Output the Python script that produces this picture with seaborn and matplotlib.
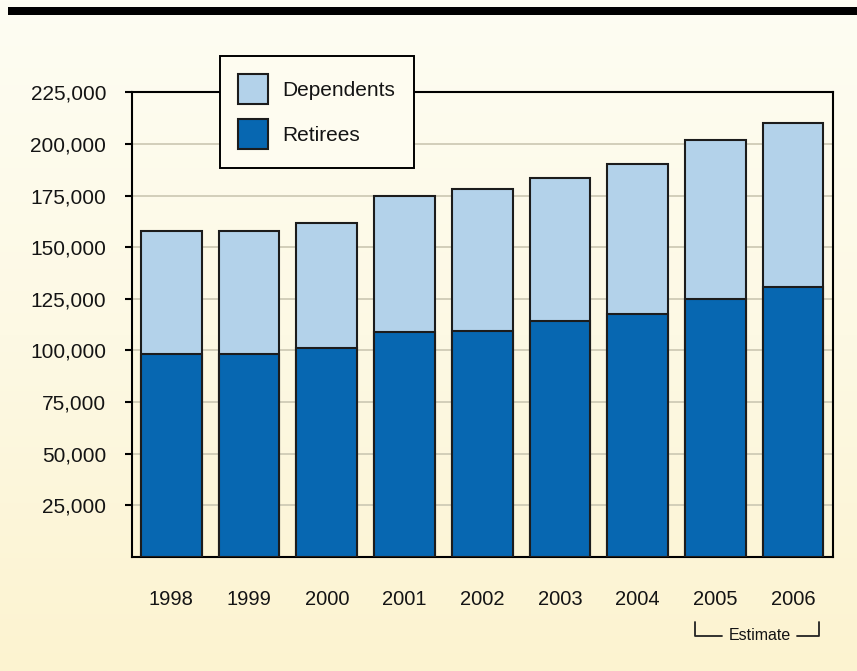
import numpy as np
import pandas as pd
import matplotlib
matplotlib.use("Agg")
import matplotlib.pyplot as plt
import matplotlib.transforms as mtrans
from matplotlib.patches import Patch, Rectangle
from matplotlib.colors import LinearSegmentedColormap
import seaborn as sns

# ---- data ----
years = ["1998", "1999", "2000", "2001", "2002", "2003", "2004", "2005", "2006"]
retirees = [98200, 98200, 101000, 108700, 109300, 114000, 117700, 125000, 130500]
dependents = [59800, 59800, 60500, 65900, 68800, 69600, 72400, 77000, 79800]
y_ticks = [25000, 50000, 75000, 100000, 125000, 150000, 175000, 200000, 225000]
series_labels = ["Dependents", "Retirees"]
estimate_label = "Estimate"

light = "#B3D2EA"
dark = "#0767B1"
edge = "#1C1C1C"
cream = "#FEFCF0"
txt = "#141414"

sns.set_theme(style="white")
plt.rcParams["font.family"] = ["Liberation Sans", "DejaVu Sans"]

fig = plt.figure(figsize=(8.57, 6.71), dpi=100)

# background gradient
bgax = fig.add_axes([0, 0, 1, 1], zorder=-10)
cmap = LinearSegmentedColormap.from_list("bg", ["#FEFDF3", "#FDF9E4", "#FCF3D0"])
bgax.imshow(np.linspace(0, 1, 256).reshape(-1, 1), aspect="auto", cmap=cmap,
            extent=[0, 1, 0, 1])
bgax.axis("off")

W, H = 857, 671
ax = fig.add_axes([131.7 / W, 1 - 556.7 / H, (832.7 - 131.7) / W, (556.7 - 92.3) / H])
ax.patch.set_alpha(0)

df = pd.DataFrame({"year": years, "Retirees": retirees, "Dependents": dependents})
df["Total"] = df["Retirees"] + df["Dependents"]

sns.barplot(data=df, x="year", y="Total", color=light, saturation=1, width=0.78,
            edgecolor=edge, linewidth=1.5, errorbar=None, ax=ax, zorder=3)
sns.barplot(data=df, x="year", y="Retirees", color=dark, saturation=1, width=0.78,
            edgecolor=edge, linewidth=1.5, errorbar=None, ax=ax, zorder=4)

ax.set_xlim(-0.51, 8.51)
ax.set_ylim(0, 225000)
ax.set_yticks(y_ticks)
ax.set_yticklabels([f"{v:,}" for v in y_ticks])
ax.yaxis.grid(True, color="#CFCBB6", lw=1.3)
ax.xaxis.grid(False)
ax.set_axisbelow(True)
ax.set_xlabel("")
ax.set_ylabel("")
ax.tick_params(axis="y", left=True, length=4.8, width=1.5, color="black",
               direction="out", pad=13.5, labelsize=15, labelcolor=txt)
ax.tick_params(axis="x", length=0, pad=24, labelsize=14.5, labelcolor=txt)
for s in ax.spines.values():
    s.set_color("black")
    s.set_linewidth(1.5)
    s.set_visible(True)

handles = [Patch(facecolor=light, edgecolor=edge, lw=1.5, label=series_labels[0]),
           Patch(facecolor=dark, edgecolor=edge, lw=1.5, label=series_labels[1])]
leg = fig.legend(handles=handles, loc="upper left",
                 bbox_to_anchor=(220 / W, 1 - 56 / H), frameon=True, fancybox=False,
                 edgecolor="black", facecolor=cream, framealpha=1, fontsize=15,
                 handlelength=1.4, handleheight=1.84, handletextpad=0.72,
                 labelspacing=0.72, borderpad=0.88, borderaxespad=0)
leg.get_frame().set_linewidth(1.4)
for t in leg.get_texts():
    t.set_color(txt)

# top black band
fig.add_artist(Rectangle((8 / W, 1 - 15 / H), 1, 8 / H, transform=fig.transFigure,
                         facecolor="black", edgecolor="none", zorder=10))

# Estimate bracket
tr = mtrans.blended_transform_factory(ax.transData, fig.transFigure)
y1, y2 = 1 - 622 / H, 1 - 636 / H
ax.plot([6.744, 6.744, 7.09], [y1, y2, y2], transform=tr, clip_on=False,
        color="#222222", lw=1.3)
ax.plot([8.056, 8.34, 8.34], [y2, y2, y1], transform=tr, clip_on=False,
        color="#222222", lw=1.3)
ax.text(7.573, 1 - 635 / H, estimate_label, transform=tr, ha="center", va="center",
        fontsize=11.5, color=txt)

fig.savefig("out.png", dpi=100)
